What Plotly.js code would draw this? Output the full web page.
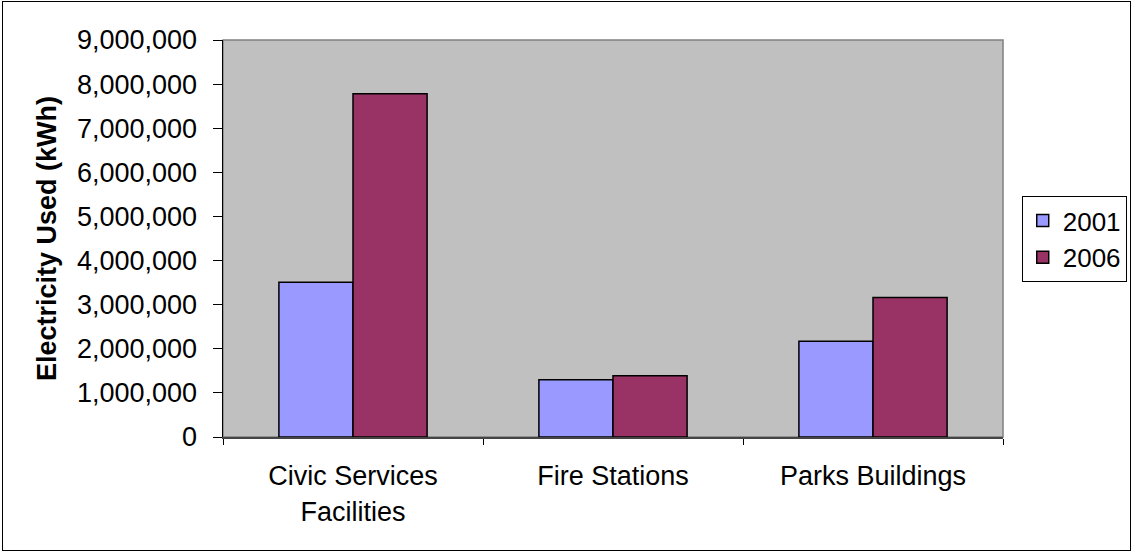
<!DOCTYPE html>
<html>
<head>
<meta charset="utf-8">
<script src="https://cdn.plot.ly/plotly-3.0.1.min.js"></script>
<style>
  html, body { margin: 0; padding: 0; background: #ffffff; }
  #wrap { position: relative; width: 1134px; height: 552px; overflow: hidden; }
  #frame { position: absolute; left: 2px; top: 1px; width: 1127px; height: 548px; border: 1px solid #000; box-sizing: content-box; pointer-events: none; z-index: 5; }
  #chart { position: absolute; left: 0; top: 0; width: 1134px; height: 552px; }
</style>
</head>
<body>
<div id="wrap">
  <div id="chart"></div>
  <div id="frame"></div>
</div>
<script>
const categories = ["Civic Services<br>Facilities", "Fire Stations", "Parks Buildings"];
const values2001 = [3510000, 1300000, 2170000];
const values2006 = [7780000, 1390000, 3160000];
const seriesNames = ["2001", "2006"];
const yTickVals = [0, 1000000, 2000000, 3000000, 4000000, 5000000, 6000000, 7000000, 8000000, 9000000];
const yTickText = ["0", "1,000,000", "2,000,000", "3,000,000", "4,000,000", "5,000,000", "6,000,000", "7,000,000", "8,000,000", "9,000,000"];

const font = "Liberation Sans, Arial, sans-serif";

const traces = [
  { type: "bar", name: seriesNames[0], x: categories, y: values2001,
    marker: { color: "#9999FF", line: { color: "#000000", width: 1.5 } }, hoverinfo: "x+y" },
  { type: "bar", name: seriesNames[1], x: categories, y: values2006,
    marker: { color: "#993366", line: { color: "#000000", width: 1.5 } }, hoverinfo: "x+y" }
];

const layout = {
  width: 1134, height: 552,
  margin: { l: 223, r: 131, t: 40, b: 115, pad: 0, autoexpand: false },
  paper_bgcolor: "rgba(0,0,0,0)",
  plot_bgcolor: "#C0C0C0",
  barmode: "group",
  bargap: 0.43,
  bargroupgap: 0,
  font: { family: font, size: 27, color: "#000" },
  showlegend: true,
  legend: {
    x: 1.024, y: 0.607, xanchor: "left", yanchor: "top",
    bgcolor: "#ffffff", bordercolor: "#000000", borderwidth: 1,
    font: { family: font, size: 26, color: "#000" },
    tracegroupgap: 4
  },
  xaxis: {
    type: "category",
    showgrid: false, zeroline: false,
    showline: true, linecolor: "#444444", linewidth: 2,
    ticks: "outside", ticklen: 6, tickcolor: "#000", tickwidth: 1,
    tickson: "boundaries",
    ticklabelstandoff: 14,
    tickfont: { family: font, size: 27, color: "#000" },
    fixedrange: true
  },
  yaxis: {
    range: [0, 9000000],
    tickvals: yTickVals, ticktext: yTickText,
    showgrid: false, zeroline: false,
    showline: true, linecolor: "#000000", linewidth: 1.5,
    ticks: "outside", ticklen: 9, tickcolor: "#000", tickwidth: 1,
    ticklabelstandoff: 10,
    tickfont: { family: font, size: 27, color: "#000" },
    title: { text: "Electricity Used (kWh)", font: { family: font, size: 27, color: "#000", weight: "bold" }, standoff: 12 },
    fixedrange: true
  },
  shapes: [
    { type: "rect", xref: "paper", yref: "paper", x0: 0, x1: 1, y0: 0, y1: 1,
      line: { color: "#808080", width: 1.5 }, fillcolor: "rgba(0,0,0,0)", layer: "below" }
  ]
};

Plotly.newPlot("chart", traces, layout, { displayModeBar: false, staticPlot: true });
</script>
</body>
</html>
